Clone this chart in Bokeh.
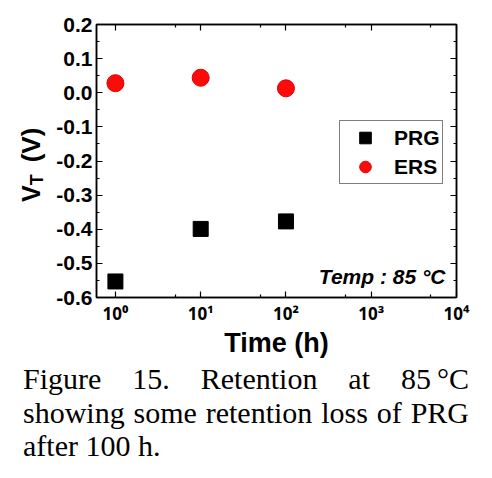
from bokeh.plotting import figure
from bokeh.models import (FixedTicker, LogAxis, LinearAxis, Label, Legend, LegendItem,
                          Div, Range1d)
from bokeh.layouts import column, row
from bokeh.embed import file_html
from bokeh.resources import INLINE

# ---- data ----
time_h = [1, 10, 100]
prg_vt = [-0.553, -0.399, -0.377]
ers_vt = [0.028, 0.044, 0.013]

x_ticks = [1, 10, 100, 1000, 10000]
x_minor = [5, 50, 500, 5000]
x_tick_labels = ["10\u2070", "10\u00b9", "10\u00b2", "10\u00b3", "10\u2074"]
y_ticks = [-0.6, -0.5, -0.4, -0.3, -0.2, -0.1, 0.0, 0.1, 0.2]
y_minor = [-0.55, -0.45, -0.35, -0.25, -0.15, -0.05, 0.05, 0.15]
y_tick_labels = ["-0.6", "-0.5", "-0.4", "-0.3", "-0.2", "-0.1", "0.0", "0.1", "0.2"]

FONT = "Liberation Sans"
YLAB_W = 50

p = figure(width=476 - YLAB_W, height=360, x_axis_type="log",
           x_range=Range1d(0.6, 10000), y_range=Range1d(-0.6, 0.2),
           output_backend="svg", toolbar_location=None,
           min_border_left=96 - YLAB_W, min_border_top=24, min_border_right=20,
           min_border_bottom=63)
p.grid.visible = False
p.outline_line_color = "black"
p.outline_line_width = 1.5
p.background_fill_color = "white"
p.border_fill_color = "white"

xt = FixedTicker(ticks=x_ticks, minor_ticks=x_minor)
yt = FixedTicker(ticks=y_ticks, minor_ticks=y_minor)

def style_axis(ax, labels=True):
    ax.axis_line_color = "black"
    ax.axis_line_width = 1.5
    ax.major_tick_line_color = "black"
    ax.minor_tick_line_color = "black"
    ax.major_tick_line_width = 1.2
    ax.minor_tick_line_width = 1.2
    ax.major_tick_in = 6
    ax.major_tick_out = 0
    ax.minor_tick_in = 3
    ax.minor_tick_out = 0
    ax.major_label_text_font = FONT
    ax.major_label_text_font_style = "bold"
    ax.major_label_text_color = "black"
    if not labels:
        ax.major_label_text_alpha = 0
        ax.major_label_text_font_size = "2px"
        ax.major_label_standoff = 0

xa = p.xaxis[0]
xa.ticker = xt
style_axis(xa)
xa.major_label_overrides = {v: s for v, s in zip(x_ticks, x_tick_labels)}
xa.major_label_text_font = "Noto Sans"
xa.major_label_text_font_size = "17px"
xa.major_label_standoff = 4
xa.axis_label = "Time (h)"
xa.axis_label_text_font = FONT
xa.axis_label_text_font_style = "bold"
xa.axis_label_text_font_size = "27px"
xa.axis_label_text_color = "black"
xa.axis_label_standoff = 0

ya = p.yaxis[0]
ya.ticker = yt
style_axis(ya)
ya.major_label_overrides = {v: s for v, s in zip(y_ticks, y_tick_labels)}
ya.major_label_text_font_size = "21px"
ya.major_label_standoff = 4

top = LogAxis(ticker=xt)
style_axis(top, labels=False)
p.add_layout(top, "above")
right = LinearAxis(ticker=yt)
style_axis(right, labels=False)
p.add_layout(right, "right")

r_prg = p.scatter(time_h, prg_vt, marker="square", size=15, fill_color="black", line_color="black")
r_ers = p.scatter(time_h, ers_vt, marker="circle", size=17, fill_color="#ff0a0a", line_color="#e00000")

legend = Legend(items=[LegendItem(label="PRG", renderers=[r_prg]),
                       LegendItem(label="ERS", renderers=[r_ers])],
                location=(243, 113), padding=2, spacing=0, glyph_width=46, glyph_height=29,
                label_standoff=6, margin=0,
                border_line_color="black", border_line_width=1.2,
                background_fill_color="white", background_fill_alpha=1.0,
                label_text_font=FONT, label_text_font_style="bold",
                label_text_font_size="21px", label_text_color="black")
p.add_layout(legend)

p.add_layout(Label(x=349, y=21, x_units="screen", y_units="screen",
                   text="Temp : 85 \u00b0C", text_align="right", text_baseline="alphabetic",
                   text_font=FONT, text_font_style="bold italic", text_font_size="21px",
                   text_color="black"))

# rotated y-axis title with a real subscript
ylab = Div(text=(
    '<div style="position:relative;width:50px;height:360px;">'
    '<div style="position:absolute;left:19px;top:202px;transform:rotate(-90deg);'
    'transform-origin:left top;white-space:nowrap;font-family:\'Liberation Sans\',Arial,sans-serif;'
    'font-weight:bold;font-size:25px;line-height:25px;color:#000;">'
    'V<span style="font-size:18px;position:relative;top:3px;">T</span>'
    '<span style="font-size:26px;margin-left:12px;">(V)</span></div></div>'),
    width=YLAB_W, height=360, margin=(0, 0, 0, 0))

cap_style = "font-family:'Liberation Serif','Times New Roman',serif;font-size:30px;line-height:33.5px;color:#000;"
caption = Div(text=(
    f'<div style="{cap_style}width:446px">'
    '<div style="text-align:justify;text-align-last:justify">Figure 15. Retention at '
    '<span style="display:inline-block">85&#8239;\u00b0C</span></div>'
    '<div style="text-align:justify;text-align-last:justify">showing some retention loss of PRG</div>'
    '<div style="text-align:left">after 100 h.</div>'
    '</div>'), width=446, height=101, margin=(2, 0, 0, 23))

layout = column(row(ylab, p, spacing=0), caption, spacing=0)
open("out.html", "w").write(file_html(layout, INLINE))
